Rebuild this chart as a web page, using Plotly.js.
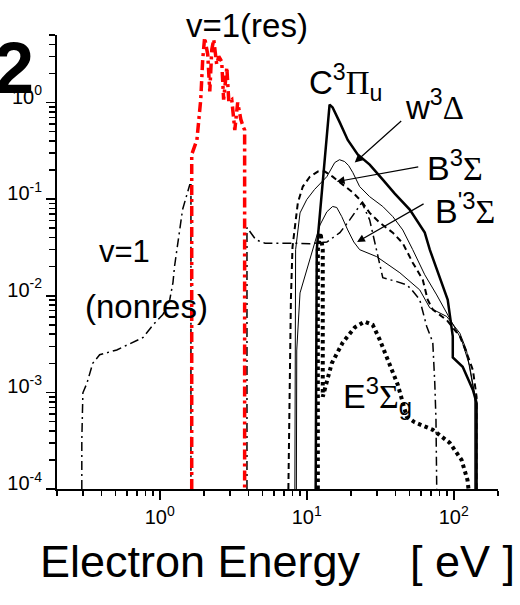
<!DOCTYPE html>
<html>
<head>
<meta charset="utf-8">
<script src="https://cdn.plot.ly/plotly-3.0.1.min.js"></script>
<style>
  html, body { margin: 0; padding: 0; background: #fff; }
  #chart { width: 520px; height: 605px; }
</style>
</head>
<body>
<div id="chart"></div>
<script>
// Electron-impact excitation rates of N2 vs electron energy (eV)

// v=1 vibrational, non-resonant part (two branches, split by null)
const vNonresE = [0.295, 0.295, 0.30, 0.32, 0.35, 0.39, 0.51, 0.77, 0.90, 1.05, 1.17, 1.23, 1.26, 1.31, 1.43, 1.60, 1.63, 1.63,
                  null,
                  3.92, 3.92, 4.5, 5.2, 8.3, 10.5, 13.7, 16.8, 19.6, 23.7, 26.8, 29.9, 32.9, 41, 47.9, 51.8, 58.7, 65.5, 72, 74.3, 75.7, 76.6];
const vNonresR = [1e-4, 3.2e-4, 9.9e-4, 1.25e-3, 2.0e-3, 2.45e-3, 2.75e-3, 3.7e-3, 5.0e-3, 6.4e-3, 9.1e-3, 0.0137, 0.020, 0.030, 0.078, 0.141, 0.141, 1e-4,
                  null,
                  1e-4, 0.051, 0.038, 0.035, 0.035, 0.0346, 0.036, 0.045, 0.061, 0.092, 0.061, 0.030, 0.0154, 0.014, 0.013, 0.0115, 9.1e-3, 4.8e-3, 3.3e-3, 1.25e-3, 5.2e-4, 1e-4];

// v=1 vibrational, resonant part
const vResE = [1.65, 1.65, 1.79, 1.90, 1.96, 2.02, 2.12, 2.19, 2.26, 2.33, 2.44, 2.52, 2.64, 2.72, 2.86, 2.95, 3.09, 3.24, 3.39, 3.56, 3.70, 3.78, 3.78];
const vResR = [1e-4, 0.29, 0.41, 1.07, 2.79, 4.7, 3.14, 1.30, 3.54, 4.5, 2.48, 3.0, 2.66, 1.07, 2.31, 1.02, 1.07, 0.52, 1.0, 0.67, 0.56, 0.52, 1e-4];

// C3Pi_u
const cPiE = [11.5, 11.7, 14.3, 15.0, 16.8, 19.0, 22.2, 26.8, 32.9, 39.7, 50.2, 63.5, 68.7, 76.6, 91, 98.5, 98.5, 115, 135, 143, 143];
const cPiR = [1e-4, 0.030, 0.95, 0.89, 0.62, 0.41, 0.29, 0.228, 0.159, 0.114, 0.078, 0.045, 0.030, 0.0186, 9.1e-3, 3.8e-3, 2.3e-3, 1.84e-3, 1.06e-3, 7.8e-4, 1e-4];

// w3Delta
const wDeltaE = [8.3, 8.4, 8.4, 9.0, 10.0, 11.3, 13.7, 15.5, 16.7, 18.1, 19.3, 20.6, 22.9, 26.8, 32.9, 38.5, 45, 52.6, 63.5, 76.6, 94, 113, 128, 141, 141];
const wDeltaR = [1e-4, 2.75e-3, 0.030, 0.072, 0.099, 0.126, 0.171, 0.239, 0.256, 0.245, 0.222, 0.188, 0.135, 0.106, 0.084, 0.066, 0.048, 0.030, 0.0165, 0.0102, 5.9e-3, 3.5e-3, 1.9e-3, 8.4e-4, 1e-4];

// B'3Sigma
const bPrimeE = [8.5, 8.55, 9.0, 10.0, 11.0, 12.3, 13.7, 15.0, 16.0, 17.3, 19.0, 20.9, 22.9, 29.9, 43, 58.7, 68.7, 89.6, 110, 122, 139, 139];
const bPrimeR = [1e-4, 2.75e-3, 0.0107, 0.0186, 0.030, 0.054, 0.074, 0.084, 0.082, 0.066, 0.048, 0.036, 0.030, 0.0254, 0.0173, 0.0115, 7.5e-3, 6.1e-3, 4.1e-3, 2.75e-3, 9e-4, 1e-4];

// B3Sigma
const bSigE = [7.5, 7.8, 8.0, 8.3, 8.7, 9.4, 10.5, 11.9, 13.3, 15.0, 17.6, 20.6, 23.7, 26.8, 31.4, 38.5, 45, 52.6, 61.5, 66.5, 72, 89.6, 110, 122, 135, 143, 143];
const bSigR = [1e-4, 9.1e-3, 0.032, 0.052, 0.092, 0.135, 0.171, 0.193, 0.193, 0.171, 0.141, 0.117, 0.094, 0.072, 0.057, 0.045, 0.035, 0.022, 0.0147, 9.1e-3, 7.2e-3, 5.6e-3, 3.8e-3, 2.6e-3, 1.7e-3, 9.0e-4, 1e-4];

// E3Sigma_g
const eSigE = [11.9, 11.9, 12.4, 12.85, 12.85, 13.9, 14.8, 17.6, 21.2, 24.8, 28.1, 31.4, 36.7, 41.6, 47.9, 54.3, 72, 94, 113, 124, 126];
const eSigR = [1e-4, 0.030, 0.045, 0.030, 9e-4, 1.45e-3, 2.0e-3, 3.3e-3, 4.7e-3, 5.4e-3, 5.0e-3, 3.5e-3, 1.9e-3, 1.2e-3, 5.6e-4, 4.9e-4, 4.1e-4, 3.0e-4, 2.0e-4, 1.24e-4, 1e-4];

// Axis ticks
const xMajor = [1, 10, 100];
const xMajorText = ['10<sup>0</sup>', '10<sup>1</sup>', '10<sup>2</sup>'];
const yMajor = [1e-4, 1e-3, 1e-2, 1e-1, 1];
const yMajorText = ['10<sup>-4</sup>', '10<sup>-3</sup>', '10<sup>-2</sup>', '10<sup>-1</sup>', '10<sup>0</sup>'];

function minorTicks(fromExp, toExp, maxVal) {
  const out = [];
  for (let e = fromExp; e <= toExp; e++) {
    for (let m = 2; m <= 9; m++) {
      const v = m * Math.pow(10, e);
      if (v <= maxVal * 1.0001) out.push(v);
    }
  }
  return out;
}

const FONT = '"Liberation Sans", Arial, Helvetica, sans-serif';
const SERIF = 'Liberation Serif';

function line(x, y, color, width, dash) {
  return { x, y, type: 'scatter', mode: 'lines', connectgaps: false,
           line: { color, width, dash }, hoverinfo: 'skip', showlegend: false };
}

const traces = [
  line(vNonresE, vNonresR, '#000', 1.5, '9px,4px,2px,4px'),
  line(wDeltaE, wDeltaR, '#000', 1, 'solid'),
  line(bPrimeE, bPrimeR, '#000', 1, 'solid'),
  line(bSigE, bSigR, '#000', 2, '6px,4px'),
  line(eSigE, eSigR, '#000', 4, '3.5px,3.5px'),
  line(cPiE, cPiR, '#000', 2.5, 'solid'),
  line(vResE, vResR, '#ff0000', 3.5, '10px,4px,3px,4px')
];

const lg = Math.log10;
const greek = s => '<span style="font-family:' + SERIF + '">' + s + '</span>';

function label(text, x, y, size, xanchor, extra) {
  return Object.assign({ text, x, y, xref: 'paper', yref: 'paper', xanchor: xanchor || 'center',
                         yanchor: 'middle', showarrow: false,
                         font: { family: FONT, size, color: '#000' } }, extra || {});
}
function arrow(xv, yv, ax, ay) {
  return { x: lg(xv), y: lg(yv), xref: 'x', yref: 'y', text: '', showarrow: true,
           ax, ay, arrowhead: 2, arrowsize: 1.3, arrowwidth: 1.2, arrowcolor: '#000', standoff: 0 };
}

const annotations = [
  label('<b>2</b>', -0.048, 0.928, 72, 'right'),
  label('v=1(res)', 0.431, 1.022, 33),
  label('v=1', 0.154, 0.524, 31),
  label('(nonres)', 0.202, 0.403, 33),
  label('C<sup>3</sup>' + greek('Π') + '<sub>u</sub>', 0.567, 0.895, 33, 'left'),
  label('w<sup>3</sup>' + greek('Δ'), 0.785, 0.845, 33, 'left'),
  label('B<sup>3</sup>' + greek('Σ'), 0.834, 0.712, 34, 'left'),
  label("B<sup>'3</sup>" + greek('Σ'), 0.853, 0.617, 34, 'left'),
  label('E<sup>3</sup>' + greek('Σ') + '<sub>g</sub>', 0.644, 0.205, 34, 'left'),
  arrow(21.2, 0.239, 48, -43),
  arrow(16.0, 0.152, 83, -15),
  arrow(22.0, 0.036, 68, -39)
];

const axisCommon = {
  type: 'log', showgrid: false, zeroline: false, showline: true, linecolor: '#000', linewidth: 2,
  ticks: 'outside', ticklen: 9, tickwidth: 1.5, tickcolor: '#000', mirror: false,
  tickmode: 'array', tickfont: { family: FONT, size: 20, color: '#000' }
};

const layout = {
  width: 520, height: 605,
  margin: { l: 57, r: 22, t: 35, b: 116 },
  paper_bgcolor: '#fff', plot_bgcolor: '#fff',
  font: { family: FONT, color: '#000' },
  showlegend: false,
  xaxis: Object.assign({}, axisCommon, {
    range: [lg(0.2), lg(200)],
    tickvals: xMajor, ticktext: xMajorText,
    minor: { tickmode: 'array', tickvals: minorTicks(-1, 2, 200), ticks: 'outside', ticklen: 5, tickwidth: 1.5, tickcolor: '#000' },
    title: { text: 'Electron Energy\u00a0\u00a0\u00a0 [ eV ]', font: { family: FONT, size: 45, color: '#000' }, standoff: 18 }
  }),
  yaxis: Object.assign({}, axisCommon, {
    range: [-4, lg(5)],
    tickvals: yMajor, ticktext: yMajorText, ticklabelshift: -6,
    minor: { tickmode: 'array', tickvals: minorTicks(-4, 0, 5), ticks: 'outside', ticklen: 6, tickwidth: 1.5, tickcolor: '#000' }
  }),
  annotations
};

Plotly.newPlot('chart', traces, layout, { staticPlot: true, displayModeBar: false });
</script>
</body>
</html>
